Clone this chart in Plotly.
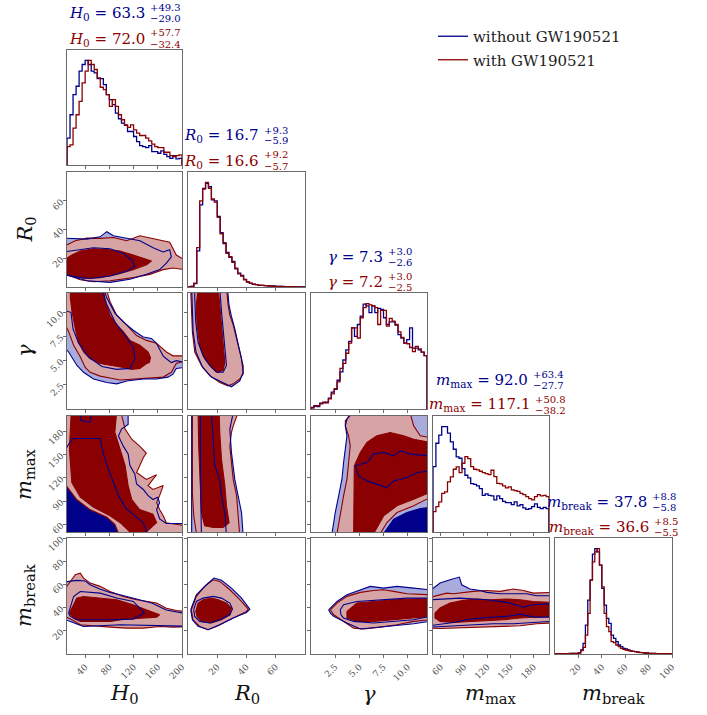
import numpy as np
import plotly.graph_objects as go

# ---------------- data ----------------
params = ["H0", "R0", "gamma", "mmax", "mbreak"]
axis_labels = ["<i>H</i><sub>0</sub>", "<i>R</i><sub>0</sub>", "<i>γ</i>",
               "<i>m</i><sub>max</sub>", "<i>m</i><sub>break</sub>"]
axis_ranges = [[10, 200], [0, 80], [0, 12], [50, 200], [0, 100]]
tick_values = [[40, 80, 120, 160, 200], [20, 40, 60], [2.5, 5.0, 7.5, 10.0],
               [60, 90, 120, 150, 180], [20, 40, 60, 80, 100]]
tick_texts = [["40", "80", "120", "160", "200"], ["20", "40", "60"],
              ["2.5", "5.0", "7.5", "10.0"], ["60", "90", "120", "150", "180"],
              ["20", "40", "60", "80", "100"]]
series_names = ["without GW190521", "with GW190521"]

median_blue = ["63.3", "16.7", "7.3", "92.0", "37.8"]
plus_blue = ["+49.3", "+9.3", "+3.0", "+63.4", "+8.8"]
minus_blue = ["−29.0", "−5.9", "−2.6", "−27.7", "−5.8"]
median_red = ["72.0", "16.6", "7.2", "117.1", "36.6"]
plus_red = ["+57.7", "+9.2", "+3.0", "+50.8", "+8.5"]
minus_red = ["−32.4", "−5.7", "−2.5", "−38.2", "−5.5"]

# histogram bins: (low, high, number of bins)
bins_H0 = (10, 200, 38)
bins_R0 = (0, 80, 40)
bins_gamma = (0, 12, 40)
bins_mmax = (50, 200, 40)
bins_mbreak = (0, 100, 50)

hist_H0_blue = [80, 150, 210, 235, 280, 300, 312, 300, 280, 275, 258, 258, 240, 210, 195, 180, 155, 138, 125,
                118, 100, 100, 85, 70, 58, 55, 52, 58, 40, 40, 35, 42, 32, 25, 20, 28, 18, 20]
hist_H0_red = [55, 60, 110, 150, 190, 245, 280, 312, 300, 285, 260, 232, 225, 210, 175, 195, 175, 150, 135,
               120, 112, 120, 105, 95, 88, 88, 80, 72, 62, 55, 52, 52, 38, 38, 28, 25, 28, 30]
hist_R0_blue = [0, 2, 10, 110, 250, 300, 315, 305, 265, 262, 215, 165, 132, 105, 90, 78, 55, 42, 35, 23,
                15, 11, 9, 7, 5, 5, 4, 4, 3, 3, 2, 2, 2, 1, 1, 1, 1, 0, 0, 0]
hist_R0_red = [0, 2, 12, 120, 262, 298, 318, 300, 268, 258, 212, 162, 135, 102, 92, 75, 57, 40, 33, 22,
               16, 12, 9, 7, 6, 5, 4, 3, 3, 2, 2, 2, 1, 1, 1, 1, 0, 0, 0, 0]
hist_gamma_blue = [5, 10, 7, 17, 18, 20, 32, 50, 58, 85, 110, 145, 175, 200, 240, 215, 250, 275, 310, 305,
                   285, 305, 285, 298, 295, 270, 250, 258, 258, 248, 220, 210, 195, 205, 240, 180, 180, 175, 168, 158]
hist_gamma_red = [3, 8, 10, 15, 20, 18, 30, 45, 60, 80, 120, 135, 165, 195, 240, 240, 210, 270, 300, 312,
                  308, 305, 300, 250, 292, 292, 245, 268, 260, 250, 228, 212, 195, 193, 182, 170, 185, 178, 168, 158]
hist_mmax_blue = [196, 266, 290, 316, 316, 296, 270, 248, 225, 221, 190, 170, 162, 145, 143, 138, 130, 110, 114, 110,
                  108, 96, 108, 100, 92, 88, 88, 82, 90, 78, 82, 72, 68, 70, 76, 84, 74, 70, 74, 70]
hist_mmax_red = [61, 76, 90, 116, 120, 150, 165, 188, 195, 178, 206, 226, 220, 196, 188, 186, 182, 178, 175, 172,
                 185, 166, 146, 144, 138, 132, 135, 126, 124, 122, 116, 112, 106, 100, 96, 106, 112, 108, 110, 106]
hist_mbreak_blue = [1, 1, 1, 1, 1, 1, 2, 2, 2, 2, 4, 12, 32, 87, 162, 222, 300, 317, 307, 267,
                    197, 147, 107, 92, 57, 47, 37, 27, 22, 17, 15, 12, 10, 8, 7, 5, 4, 4, 3, 3,
                    2, 2, 2, 1, 1, 1, 1, 1, 1, 1]
hist_mbreak_red = [1, 1, 1, 1, 1, 1, 1, 2, 2, 2, 3, 10, 20, 57, 122, 222, 277, 307, 317, 267,
                   202, 122, 82, 67, 37, 34, 27, 22, 17, 14, 12, 10, 9, 8, 7, 6, 5, 4, 3, 3,
                   2, 2, 2, 1, 1, 1, 1, 1, 1, 1]

# credible-region outlines (x value, y value)
H0_R0_blue_outer = [(5, 34), (42.8, 33.3), (64.7, 34.9), (75.7, 38.5), (86.6, 35.6), (108.5, 34), (130.4, 32.2),
                    (152.3, 27.3), (168.7, 24.4), (179.7, 26), (182.4, 21), (174.2, 16.6), (163.2, 12.1),
                    (141.4, 8.8), (114, 5.4), (81.1, 3.2), (42.8, 4.3), (15.5, 7.6), (5, 9.4)]
H0_R0_blue_inner = [(5, 24.4), (31.9, 26), (53.8, 27.3), (81.1, 26.6), (103, 23.3), (116.7, 18.8), (122.2, 14.3),
                    (108.5, 11), (81.1, 7.6), (48.3, 5.9), (21, 7.2), (5, 8.8)]
H0_R0_red_outer = [(5, 28.2), (23.7, 32.2), (42.8, 34), (64.7, 33.8), (86.6, 34.4), (108.5, 32.2), (130.4, 35.6),
                   (157.8, 33.3), (179.7, 31.1), (190.6, 22.2), (205, 18.8), (205, 12.1), (185, 13.2),
                   (168.7, 12.1), (146.8, 8.8), (119.5, 6.5), (81.1, 4.3), (53.8, 3.6), (31.9, 5), (15.5, 7.6),
                   (5, 8.8)]
H0_R0_red_inner = [(5, 18.8), (18.2, 22.2), (31.9, 25.1), (53.8, 26.6), (75.7, 26), (97.6, 25.1), (119.5, 22.2),
                   (135.9, 19.9), (149.6, 18.1), (141.4, 15.5), (119.5, 12.1), (92.1, 8.8), (64.7, 6.5),
                   (37.4, 6.1), (18.2, 7.6), (5, 10.3)]

H0_gamma_blue_outer = [(5, 12.5), (70.2, 12.5), (75.7, 11.5), (89.4, 9.9), (105.8, 8.85), (119.5, 8.15),
                       (135.9, 7.45), (149.6, 7.3), (157.8, 6.8), (168.7, 5.5), (174.2, 5.2), (182.4, 4.8),
                       (190.6, 5.0), (205, 4.8), (205, 4.3), (190.6, 4.2), (185.1, 3.6), (176.9, 3.3),
                       (157.8, 3.1), (135.9, 3.1), (108.5, 2.9), (92.1, 2.6), (75.7, 2.75), (53.8, 3.1),
                       (37.4, 3.8), (26.4, 4.5), (12.7, 5.9), (5, 6.4)]
H0_gamma_blue_inner = [(5, 10.2), (16.6, 10.0), (19.9, 8.3), (29.2, 6.8), (45.6, 5.4), (67.5, 4.4), (92.1, 4.1),
                       (114, 4.2), (122.2, 5.2), (119.5, 6.4), (105.8, 7.6), (89.4, 9.0), (75.7, 10.8),
                       (67.5, 12.5), (5, 12.5)]
H0_gamma_red_outer = [(5, 12.5), (74.6, 12.5), (81.1, 11.1), (92.1, 9.7), (108.5, 8.7), (124.9, 7.6), (141.4, 7.1),
                      (157.8, 6.8), (174.2, 5.9), (185.1, 5.5), (205, 5.5), (205, 5.0), (190.6, 4.7),
                      (182.4, 3.8), (168.7, 3.3), (141.4, 3.2), (119.5, 3.1), (97.6, 3.0), (81.1, 3.2),
                      (64.7, 3.4), (48.3, 3.8), (40.1, 4.3), (31.9, 5.4), (20.9, 6.6), (12.7, 8.0), (5, 9.0)]
H0_gamma_red_inner = [(15.5, 12.5), (70.2, 12.5), (72.9, 11.1), (81.1, 9.7), (92.1, 8.7), (103, 8.0), (114, 7.1),
                      (130.4, 6.6), (144.1, 5.9), (148, 5.3), (146, 4.8), (141.4, 4.7), (130.4, 4.2),
                      (116.7, 4.1), (103, 4.3), (81.1, 4.5), (64.7, 4.7), (48.3, 5.2), (37.4, 5.9), (29.2, 6.9),
                      (23.7, 8.3), (18.2, 10.1), (15.5, 11.5)]

H0_mmax_blue_outer = [(5, 205), (111, 205), (111, 189), (100, 183), (95, 174), (103, 161), (111, 151), (114, 136),
                      (122, 125), (125, 112), (136, 105), (144, 97), (152, 92), (160, 95), (163, 88), (158, 79),
                      (163, 67), (174, 61), (205, 61), (205, 45), (5, 45)]
H0_mmax_blue_inner_a = [(20, 171), (65, 171), (68, 157), (76, 136), (87, 114), (95, 97), (108, 80), (136, 62),
                        (144, 45), (5, 45), (5, 153), (14, 165)]
H0_mmax_blue_inner_b = [(32, 205), (33, 194), (48, 192), (51, 205)]
H0_mmax_red_outer = [(5, 205), (99, 205), (106, 183), (117, 170), (130, 161), (141, 152), (136, 146), (130, 136),
                     (125, 127), (141, 118), (158, 124), (150, 116), (144, 110), (152, 105), (169, 110),
                     (163, 97), (158, 88), (163, 79), (169, 71), (174, 62), (205, 58), (205, 45), (97, 45),
                     (89, 60), (76, 69), (48, 79), (26, 92), (5, 114)]
H0_mmax_red_inner = [(17, 205), (92, 205), (89, 179), (98, 157), (106, 136), (111, 110), (117, 92), (130, 79),
                     (152, 73), (158, 62), (150, 56), (141, 50), (114, 50), (98, 62), (81, 71), (54, 82),
                     (32, 95), (18, 114), (14, 157)]

H0_mbreak_blue_outer = [(5, 62), (26, 63.5), (40, 63), (48, 59.7), (65, 55.9), (81, 53.1), (97.6, 51.1),
                        (120, 48), (150, 44), (174, 38), (205, 35), (205, 24), (174, 24.5), (136, 25.2),
                        (98, 25.2), (65, 24.3), (37, 23.7), (15.5, 28.1), (5, 30)]
H0_mbreak_blue_inner = [(12.7, 35.2), (20.9, 49.6), (31.9, 53.9), (64.7, 52.5), (92.1, 48.2), (119.5, 45.3),
                        (138, 35.2), (119.5, 30.1), (81, 29.5), (48, 29.5), (26, 29.5), (15.5, 32.4)]
H0_mbreak_red_outer = [(5, 55), (23.7, 68.3), (31.9, 69.7), (37.4, 65.4), (48.3, 61.1), (64.7, 58.3),
                       (81.1, 53.9), (103, 49.6), (125, 46.7), (141, 45.3), (158, 43.9), (174, 39.5),
                       (191, 37.5), (205, 36.7), (205, 23.5), (185, 23.2), (163, 23.7), (136, 22.3),
                       (108, 22.3), (81, 23.2), (54, 24.3), (32, 25.2), (18, 29.5), (5, 33)]
H0_mbreak_red_inner = [(18, 39.5), (26, 48), (37, 49.6), (65, 48.2), (92, 46.7), (119, 42.4), (141, 38.1),
                       (163, 33.8), (158, 31.8), (136, 30.9), (108, 30.1), (81, 28.1), (54, 28.1), (32, 28.1),
                       (21, 30.9), (14, 35)]

R0_gamma_blue_outer = [(2.5, 12.5), (27, 12.5), (28, 10.8), (29.5, 9.7), (32, 8.3), (34.3, 6.6), (36.6, 5.2),
                       (37.7, 3.8), (35.4, 2.9), (29.7, 2.3), (24, 2.7), (16, 3.3), (10, 4.3), (5.5, 5.9),
                       (3.5, 8.0), (2.8, 10.1)]
R0_gamma_blue_inner = [(4.6, 12.5), (21.7, 12.5), (22.9, 10.1), (25.2, 6.6), (26.3, 4.5), (24, 3.8), (19.4, 3.8),
                       (14.9, 4.5), (10.3, 5.5), (6.9, 6.9), (5.3, 9.0), (4.6, 11.5)]
R0_gamma_red_outer = [(1.8, 12.5), (26.3, 12.5), (27.4, 10.8), (28.6, 9.7), (30.9, 8.7), (33.2, 7.3), (35.4, 5.9),
                      (37.7, 4.5), (37.7, 3.6), (35.4, 3.1), (30.9, 2.6), (27.4, 2.4), (21.7, 2.75), (14.9, 3.45),
                      (9.2, 4.5), (4.6, 5.9), (3.0, 8.0), (2.3, 10.1)]
R0_gamma_red_inner = [(6.9, 12.5), (20.6, 12.5), (21.7, 10.8), (22.9, 9.0), (24, 6.6), (25.2, 4.8), (24, 4.0),
                      (20.6, 3.8), (16, 4.3), (11.4, 5.2), (8, 6.6), (6.2, 8.7), (5.7, 10.8)]

R0_mmax_blue_outer = [(2.5, 205), (31, 205), (28.6, 183), (29.7, 153), (32, 118), (34.3, 97), (36.6, 75),
                      (37.7, 45), (2.5, 45)]
R0_mmax_blue_inner = [(8.5, 205), (16, 205), (17.2, 170), (18.3, 136), (21.7, 118), (22.9, 97), (25.2, 75),
                      (26.3, 45), (9.2, 45), (8.5, 118)]
R0_mmax_red_outer = [(3.0, 205), (34.3, 205), (30.9, 187), (29.7, 179), (28.6, 161), (29.7, 136), (30.9, 118),
                     (33.2, 97), (34.3, 75), (35.4, 45), (6.0, 45), (4.0, 70), (3.0, 100)]
R0_mmax_red_inner = [(6.9, 205), (21.3, 205), (21.7, 179), (22.9, 144), (25.2, 110), (26.3, 84), (28.1, 62),
                     (24, 56), (17.2, 56), (11.4, 58), (9.2, 75), (8, 118), (7.3, 161)]

R0_mbreak_blue_outer = [(1.85, 38.1), (5.7, 51.1), (12.6, 59.7), (17.8, 65.5), (22.9, 63.5), (29.7, 56.8),
                        (36.6, 48.2), (42.3, 38.7), (40, 35.8), (30.9, 31), (21.7, 25.2), (13.7, 20.9),
                        (6.9, 23.8), (3, 29.5)]
R0_mbreak_blue_inner = [(3.9, 38.1), (5.7, 45.3), (10.3, 48.2), (17.2, 49.7), (22.9, 48.2), (28.6, 43.9),
                        (30.4, 38.7), (28.6, 33.8), (21.7, 29.5), (14.9, 26.7), (8, 28.1), (4.6, 32.4)]
R0_mbreak_red_outer = [(2.3, 38.1), (5.7, 49.7), (11.4, 58.3), (17.2, 64), (21.7, 62.6), (28.6, 55.4),
                       (35.4, 46.8), (41.2, 38.7), (40, 36.7), (33.2, 32.4), (26.3, 28.1), (19.4, 23.8),
                       (13.7, 20.9), (8, 23.8), (3.45, 29.5)]
R0_mbreak_red_inner = [(5.3, 36.7), (6.9, 43.9), (10.3, 46.8), (16, 48.2), (20.6, 46.8), (26.3, 43.9),
                       (29.7, 39.6), (28.6, 33.8), (22.9, 29.5), (16, 26.7), (9.2, 28.1), (6.2, 32.4)]

gamma_mmax_blue_outer = [(2.17, 48), (2.51, 75.2), (2.86, 96.7), (3.2, 118.3), (3.37, 139.9), (3.62, 161.4),
                         (3.72, 174.4), (3.55, 187.3), (3.72, 196), (4.06, 203), (12.3, 203), (12.3, 48)]
gamma_mmax_blue_inner_a = [(4.58, 135.6), (5.79, 139.9), (6.48, 150.7), (7.51, 152.8), (8.55, 148.5),
                           (9.24, 155), (10.27, 150.7), (12.3, 148.5), (12.3, 129.1), (10.96, 126.9),
                           (9.93, 120.5), (8.55, 116.1), (7.86, 107.5), (6.82, 111.8), (5.79, 116.1),
                           (4.93, 122.6)]
gamma_mmax_blue_inner_b = [(7.51, 48), (8.55, 66.5), (9.93, 75.2), (11.3, 80.3), (12.3, 81.6), (12.3, 48)]
gamma_mmax_red_outer = [(2.69, 48), (3.03, 75.2), (3.37, 96.7), (3.72, 118.3), (3.89, 139.9), (4.06, 161.4),
                        (3.89, 174.4), (3.55, 187.3), (3.55, 193.8), (4.24, 203), (10.27, 203), (10.62, 187.3),
                        (11.3, 174.4), (12.3, 172.2), (12.3, 94.6), (10.62, 83.8), (8.89, 75.2), (7.86, 62.2),
                        (7.17, 48)]
gamma_mmax_red_inner = [(4.41, 48), (4.41, 96.7), (4.48, 135.6), (5.1, 152.8), (5.79, 165.8), (6.82, 174.4),
                        (8.2, 178.7), (9.58, 174.4), (10.62, 170), (12.3, 165.8), (12.3, 101), (10.62, 92.4),
                        (8.89, 83.8), (7.51, 70.8), (6.48, 48)]

gamma_mbreak_blue_outer = [(1.82, 38.1), (2.69, 45.3), (3.72, 51.1), (5.1, 55.4), (6.13, 58.3), (7.51, 56.8),
                           (8.89, 58.3), (10.62, 56.8), (12.3, 55.4), (12.3, 28.1), (10.62, 26.1), (8.55, 24.3),
                           (6.48, 22.3), (5.1, 21.5), (3.72, 26.7), (2.34, 32.4), (2.0, 35.3)]
gamma_mbreak_blue_inner = [(3.03, 38.1), (3.37, 42.5), (4.75, 45.3), (7.17, 46.8), (9.93, 48.2), (12.3, 48.2),
                           (12.3, 32.4), (10.62, 29.5), (8.55, 28.1), (6.48, 26.7), (4.41, 28.1), (3.37, 31),
                           (3.1, 33.8)]
gamma_mbreak_red_outer = [(2.0, 38.1), (2.69, 43.9), (3.72, 49.7), (5.1, 53.1), (6.48, 54.8), (7.51, 55.4),
                          (8.55, 54), (9.93, 52), (12.3, 51.1), (12.3, 29.5), (10.62, 28.1), (8.89, 25.2),
                          (7.17, 23.2), (5.44, 21.5), (4.41, 22.3), (3.37, 28.1), (2.34, 33.8)]
gamma_mbreak_red_inner = [(3.72, 36.7), (4.41, 41), (4.75, 43.9), (6.48, 45.3), (8.55, 46.8), (10.62, 47.4),
                          (12.3, 47.4), (12.3, 32.4), (10.62, 31), (8.55, 29.5), (6.48, 28.1), (4.75, 28.1),
                          (3.72, 31)]

mmax_mbreak_blue_outer = [(48, 55.4), (59.1, 61.2), (72, 64), (84.1, 66.3), (87.1, 59.7), (97.9, 56),
                          (110.8, 54.8), (119.4, 53.1), (136.6, 52), (153.9, 52), (171.1, 52), (184, 50.2),
                          (203, 50.2), (203, 28.1), (179.7, 27.2), (153.9, 26.1), (128, 26.1), (97.9, 24.9),
                          (76.3, 24.3), (59.1, 23.8), (48, 23.2)]
mmax_mbreak_blue_inner = [(48, 46.8), (84.9, 48.2), (119.4, 46.8), (145.3, 44.5), (166.8, 40.4), (179.7, 42.5),
                          (203, 43.3), (203, 31.8), (179.7, 31.8), (162.5, 34.4), (145.3, 32.4), (119.4, 31.5),
                          (97.9, 30.1), (76.3, 27.2), (48, 24.6)]
mmax_mbreak_red_outer = [(48, 49.1), (59.1, 51.1), (67.7, 52.5), (76.3, 52), (89.2, 53.1), (102.2, 54),
                         (119.4, 54.8), (136.6, 54), (153.9, 56), (166.8, 54.8), (179.7, 52.5), (203, 53.1),
                         (203, 26.7), (184, 26.1), (162.5, 24.3), (141, 23.8), (119.4, 23.2), (97.9, 23.2),
                         (76.3, 22.3), (59.1, 22), (48, 22.3)]
mmax_mbreak_red_inner = [(52.6, 35.3), (59.1, 39.6), (72, 43.9), (89.2, 46.2), (106.5, 47.4), (123.7, 46.8),
                         (145.3, 47.4), (162.5, 46.8), (179.7, 45.3), (203, 44.5), (203, 32.4), (179.7, 31.8),
                         (162.5, 31), (141, 29.5), (119.4, 28.9), (97.9, 28.1), (76.3, 27.2), (59.1, 28.1),
                         (52.6, 31)]

# ---------------- tables built from the data ----------------
hist_bins = [bins_H0, bins_R0, bins_gamma, bins_mmax, bins_mbreak]
hist_blue = [hist_H0_blue, hist_R0_blue, hist_gamma_blue, hist_mmax_blue, hist_mbreak_blue]
hist_red = [hist_H0_red, hist_R0_red, hist_gamma_red, hist_mmax_red, hist_mbreak_red]

contours = {
    ("H0", "R0"): ([H0_R0_blue_outer], [H0_R0_blue_inner], [H0_R0_red_outer], [H0_R0_red_inner]),
    ("H0", "gamma"): ([H0_gamma_blue_outer], [H0_gamma_blue_inner], [H0_gamma_red_outer], [H0_gamma_red_inner]),
    ("H0", "mmax"): ([H0_mmax_blue_outer], [H0_mmax_blue_inner_a, H0_mmax_blue_inner_b],
                     [H0_mmax_red_outer], [H0_mmax_red_inner]),
    ("H0", "mbreak"): ([H0_mbreak_blue_outer], [H0_mbreak_blue_inner], [H0_mbreak_red_outer],
                       [H0_mbreak_red_inner]),
    ("R0", "gamma"): ([R0_gamma_blue_outer], [R0_gamma_blue_inner], [R0_gamma_red_outer], [R0_gamma_red_inner]),
    ("R0", "mmax"): ([R0_mmax_blue_outer], [R0_mmax_blue_inner], [R0_mmax_red_outer], [R0_mmax_red_inner]),
    ("R0", "mbreak"): ([R0_mbreak_blue_outer], [R0_mbreak_blue_inner], [R0_mbreak_red_outer],
                       [R0_mbreak_red_inner]),
    ("gamma", "mmax"): ([gamma_mmax_blue_outer], [gamma_mmax_blue_inner_a, gamma_mmax_blue_inner_b],
                        [gamma_mmax_red_outer], [gamma_mmax_red_inner]),
    ("gamma", "mbreak"): ([gamma_mbreak_blue_outer], [gamma_mbreak_blue_inner], [gamma_mbreak_red_outer],
                          [gamma_mbreak_red_inner]),
    ("mmax", "mbreak"): ([mmax_mbreak_blue_outer], [mmax_mbreak_blue_inner], [mmax_mbreak_red_outer],
                         [mmax_mbreak_red_inner]),
}

# ---------------- styling / layout ----------------
BLUE = "#00008B"
RED = "#8B0000"
LIGHT_BLUE = "#a9abdc"
LIGHT_RED = "#d6a4a4"
FONT = "DejaVu Serif"

W, H = 707, 715
ML, MR, MT, MB = 67, 35, 50, 61
PW, PH = W - ML - MR, H - MT - MB
col_px = [(67, 182), (188, 305), (311, 427), (433, 549), (555, 672)]
row_px = [(50, 165), (172, 287), (293, 409), (416, 532), (538, 654)]


def fx(px):
    return (px - ML) / PW


def fy(py):
    return 1 - (py - MT) / PH


def poly_xy(polys, close):
    xs, ys = [], []
    for n, p in enumerate(polys):
        if n > 0:
            xs.append(None)
            ys.append(None)
        pts = list(p) + ([p[0]] if close else [])
        xs += [q[0] for q in pts]
        ys += [q[1] for q in pts]
    return xs, ys


fig = go.Figure()
layout_axes = {}
k = 0
for i in range(5):
    for j in range(i + 1):
        k += 1
        s = "" if k == 1 else str(k)
        xname, yname = "x" + s, "y" + s
        base = dict(showline=True, mirror=True, linecolor="#6a6a6a", linewidth=1.3, showgrid=False,
                    zeroline=False, ticks="outside", ticklen=3, tickwidth=1, tickcolor="#6a6a6a",
                    tickfont=dict(family=FONT, size=9, color="#555555"), tickangle=-45, automargin=False)
        xa = dict(base, domain=[fx(col_px[j][0]), fx(col_px[j][1])], anchor=yname,
                  range=axis_ranges[j], tickmode="array", tickvals=tick_values[j], ticktext=tick_texts[j],
                  showticklabels=(i == 4))
        ya = dict(base, domain=[fy(row_px[i][1]), fy(row_px[i][0])], anchor=xname)
        if i == j:
            lo, hi, nb = hist_bins[j]
            edges = np.linspace(lo, hi, nb + 1)
            hx = [edges[0]] + list(edges[:-1]) + [edges[-1]]
            top = 1.1 * max(max(hist_blue[j]), max(hist_red[j]))
            for counts, col, nm, grp in ((hist_blue[j], BLUE, series_names[0], "b"),
                                         (hist_red[j], RED, series_names[1], "r")):
                fig.add_trace(go.Scatter(x=hx, y=[0] + list(counts) + [0], mode="lines",
                                         line=dict(color=col, width=1.3, shape="hv"),
                                         xaxis=xname, yaxis=yname, name=nm, legendgroup=grp,
                                         showlegend=(j == 0), hoverinfo="skip"))
            ya.update(range=[0, top], ticks="", showticklabels=False)
        else:
            b_out, b_in, r_out, r_in = contours[(params[j], params[i])]
            specs = [(b_out, LIGHT_BLUE, None), (b_in, BLUE, None), (r_out, LIGHT_RED, RED), (r_in, RED, RED)]
            for polys, fc, lc in specs:
                px_, py_ = poly_xy(polys, True)
                fig.add_trace(go.Scatter(x=px_, y=py_, mode="lines", fill="toself", fillcolor=fc,
                                         line=dict(color=lc if lc else fc, width=1.1 if lc else 0),
                                         xaxis=xname, yaxis=yname, showlegend=False, hoverinfo="skip"))
            for polys in (b_out, b_in):
                px_, py_ = poly_xy(polys, True)
                fig.add_trace(go.Scatter(x=px_, y=py_, mode="lines", line=dict(color=BLUE, width=1.1),
                                         xaxis=xname, yaxis=yname, showlegend=False, hoverinfo="skip"))
            ya.update(range=axis_ranges[i], tickmode="array", tickvals=tick_values[i], ticktext=tick_texts[i],
                      showticklabels=(j == 0))
        layout_axes["xaxis" + s] = xa
        layout_axes["yaxis" + s] = ya

annotations = []
# axis titles
for j in range(5):
    cx = (col_px[j][0] + col_px[j][1]) / 2
    annotations.append(dict(x=fx(cx), y=fy(694), xref="paper", yref="paper", text=axis_labels[j],
                            showarrow=False, xanchor="center", yanchor="middle",
                            font=dict(family=FONT, size=21, color="#111111")))
for i in range(1, 5):
    cy = (row_px[i][0] + row_px[i][1]) / 2
    annotations.append(dict(x=fx(25), y=fy(cy), xref="paper", yref="paper", text=axis_labels[i],
                            showarrow=False, xanchor="center", yanchor="middle", textangle=-90,
                            font=dict(family=FONT, size=21, color="#111111")))

# titles above the 1-D panels
main_off_blue = [22, 14, 16, 39, 35]
main_off_red = [22, 14, 16, 41, 37]
for j in range(5):
    cx = (col_px[j][0] + col_px[j][1]) / 2
    top = row_px[j][0]
    for med, plus, minus, col, off, dy in ((median_blue[j], plus_blue[j], minus_blue[j], BLUE, main_off_blue[j], 36),
                                           (median_red[j], plus_red[j], minus_red[j], RED, main_off_red[j], 11)):
        ymid = top - dy
        xr = cx + off
        annotations.append(dict(x=fx(xr), y=fy(ymid), xref="paper", yref="paper",
                                text=f"{axis_labels[j]} = {med}", showarrow=False,
                                xanchor="right", yanchor="middle", font=dict(family=FONT, size=15, color=col)))
        annotations.append(dict(x=fx(xr + 1), y=fy(ymid - 6), xref="paper", yref="paper", text=plus,
                                showarrow=False, xanchor="left", yanchor="middle",
                                font=dict(family=FONT, size=10, color=col)))
        annotations.append(dict(x=fx(xr + 1), y=fy(ymid + 5), xref="paper", yref="paper", text=minus,
                                showarrow=False, xanchor="left", yanchor="middle",
                                font=dict(family=FONT, size=10, color=col)))

fig.update_layout(
    width=W, height=H, margin=dict(l=ML, r=MR, t=MT, b=MB, autoexpand=False),
    paper_bgcolor="white", plot_bgcolor="white",
    showlegend=True,
    legend=dict(x=fx(433), y=fy(20), xanchor="left", yanchor="top", bgcolor="rgba(0,0,0,0)",
                font=dict(family=FONT, size=15, color="#222222"), tracegroupgap=1),
    annotations=annotations,
    **layout_axes,
)

fig.write_html("out.html", config={"displayModeBar": False},
               post_script="document.body.style.margin='0px';")
